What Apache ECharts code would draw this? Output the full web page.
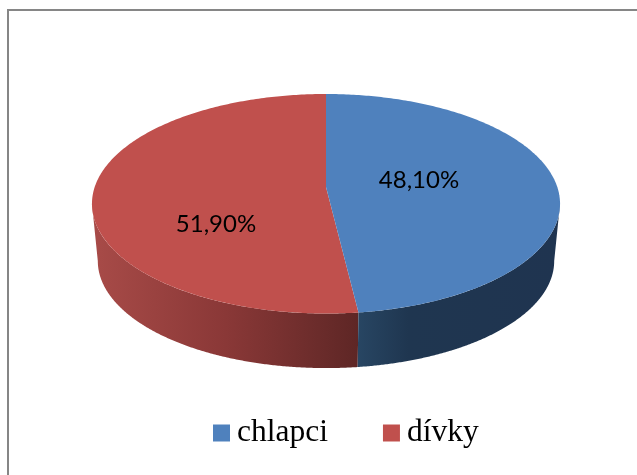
<!DOCTYPE html>
<html><head><meta charset="utf-8">
<style>html,body{margin:0;padding:0;background:#fff}#c{width:637px;height:475px}</style>
<script src="https://cdn.jsdelivr.net/npm/echarts@6/dist/echarts.min.js"></script>
</head><body><div id="c"></div>
<script>
const categories = ['chlapci', 'dívky'];
const values = [48.1, 51.9];
const labels = ['48,10%', '51,90%'];

const topColors = ['#4f81bd', '#c0504d'];
const sideGradients = [
  [[0, '#284663'], [0.25, '#1f3650'], [1, '#1f3450']],
  [[0, '#a84b48'], [0.5, '#8a3837'], [0.85, '#6b2c2b'], [1, '#5e2625']]
];
const labelOffsets = [[93, -7], [-110, 37]];

// perspective ellipse parameters
const CX = 326, CY = 187, A = 231.3, B = 107.2, K = 0.1527, DEPTH = 57.7, SHRINK = 0.975;
function project(a, lower) {
  const u = Math.sin(a), v = -Math.cos(a), w = 1 - K * v;
  const s = lower ? SHRINK : 1;
  return [CX + s * A * u / w, CY + (lower ? DEPTH : 0) + s * B * v / w];
}
function arc(a0, a1, lower) {
  const pts = [], n = 240;
  for (let i = 0; i <= n; i++) pts.push(project(a0 + (a1 - a0) * i / n, lower));
  return pts;
}
const total = values.reduce((s, v) => s + v, 0);
const starts = values.map((_, i) => values.slice(0, i).reduce((s, v) => s + v, 0) / total * Math.PI * 2);
// angles at which the rim leaves the silhouette of the disc
const RIM0 = Math.acos(-K), RIM1 = Math.PI * 2 - RIM0;

function renderSlice(idx) {
  return function () {
    const a0 = starts[idx], a1 = a0 + values[idx] / total * Math.PI * 2;
    const sa0 = Math.max(a0, RIM0), sa1 = Math.min(a1, RIM1);
    const side = arc(sa0, sa1, false).concat(arc(sa0, sa1, true).reverse());
    const top = [[CX, CY]].concat(arc(a0, a1, false));
    return {
      type: 'group',
      children: [
        { type: 'polygon', z2: 1, shape: { points: side },
          style: { fill: new echarts.graphic.LinearGradient(0, 0, 1, 0,
            sideGradients[idx].map(s => ({ offset: s[0], color: s[1] }))) } },
        { type: 'polygon', z2: 5, shape: { points: top },
          style: { fill: topColors[idx] } },
        { type: 'text', z2: 10, x: CX + labelOffsets[idx][0], y: CY + labelOffsets[idx][1],
          style: { text: labels[idx], align: 'center', verticalAlign: 'middle',
            font: '24px Lato, sans-serif', fill: '#000' } }
      ]
    };
  };
}

const chart = echarts.init(document.getElementById('c'), null, { renderer: 'canvas' });
chart.setOption({
  animation: false,
  backgroundColor: '#fff',
  legend: {
    left: 208, top: 412, itemWidth: 17, itemHeight: 17, itemGap: 55,
    icon: 'rect', data: categories,
    textStyle: { fontFamily: 'Liberation Serif', fontSize: 31.5, color: '#000', padding: [0, 0, 0, 2] }
  },
  graphic: [{ type: 'polyline', silent: true,
    shape: { points: [[8, 475], [8, 10], [637, 10]] },
    style: { stroke: '#868686', lineWidth: 2, fill: null } }],
  series: categories.map((name, i) => ({
    type: 'custom', name, coordinateSystem: 'none', silent: true,
    itemStyle: { color: topColors[i] },
    z: i === 1 ? 2 : 3,
    data: [values[i]],
    renderItem: renderSlice(i)
  }))
});
</script></body></html>
